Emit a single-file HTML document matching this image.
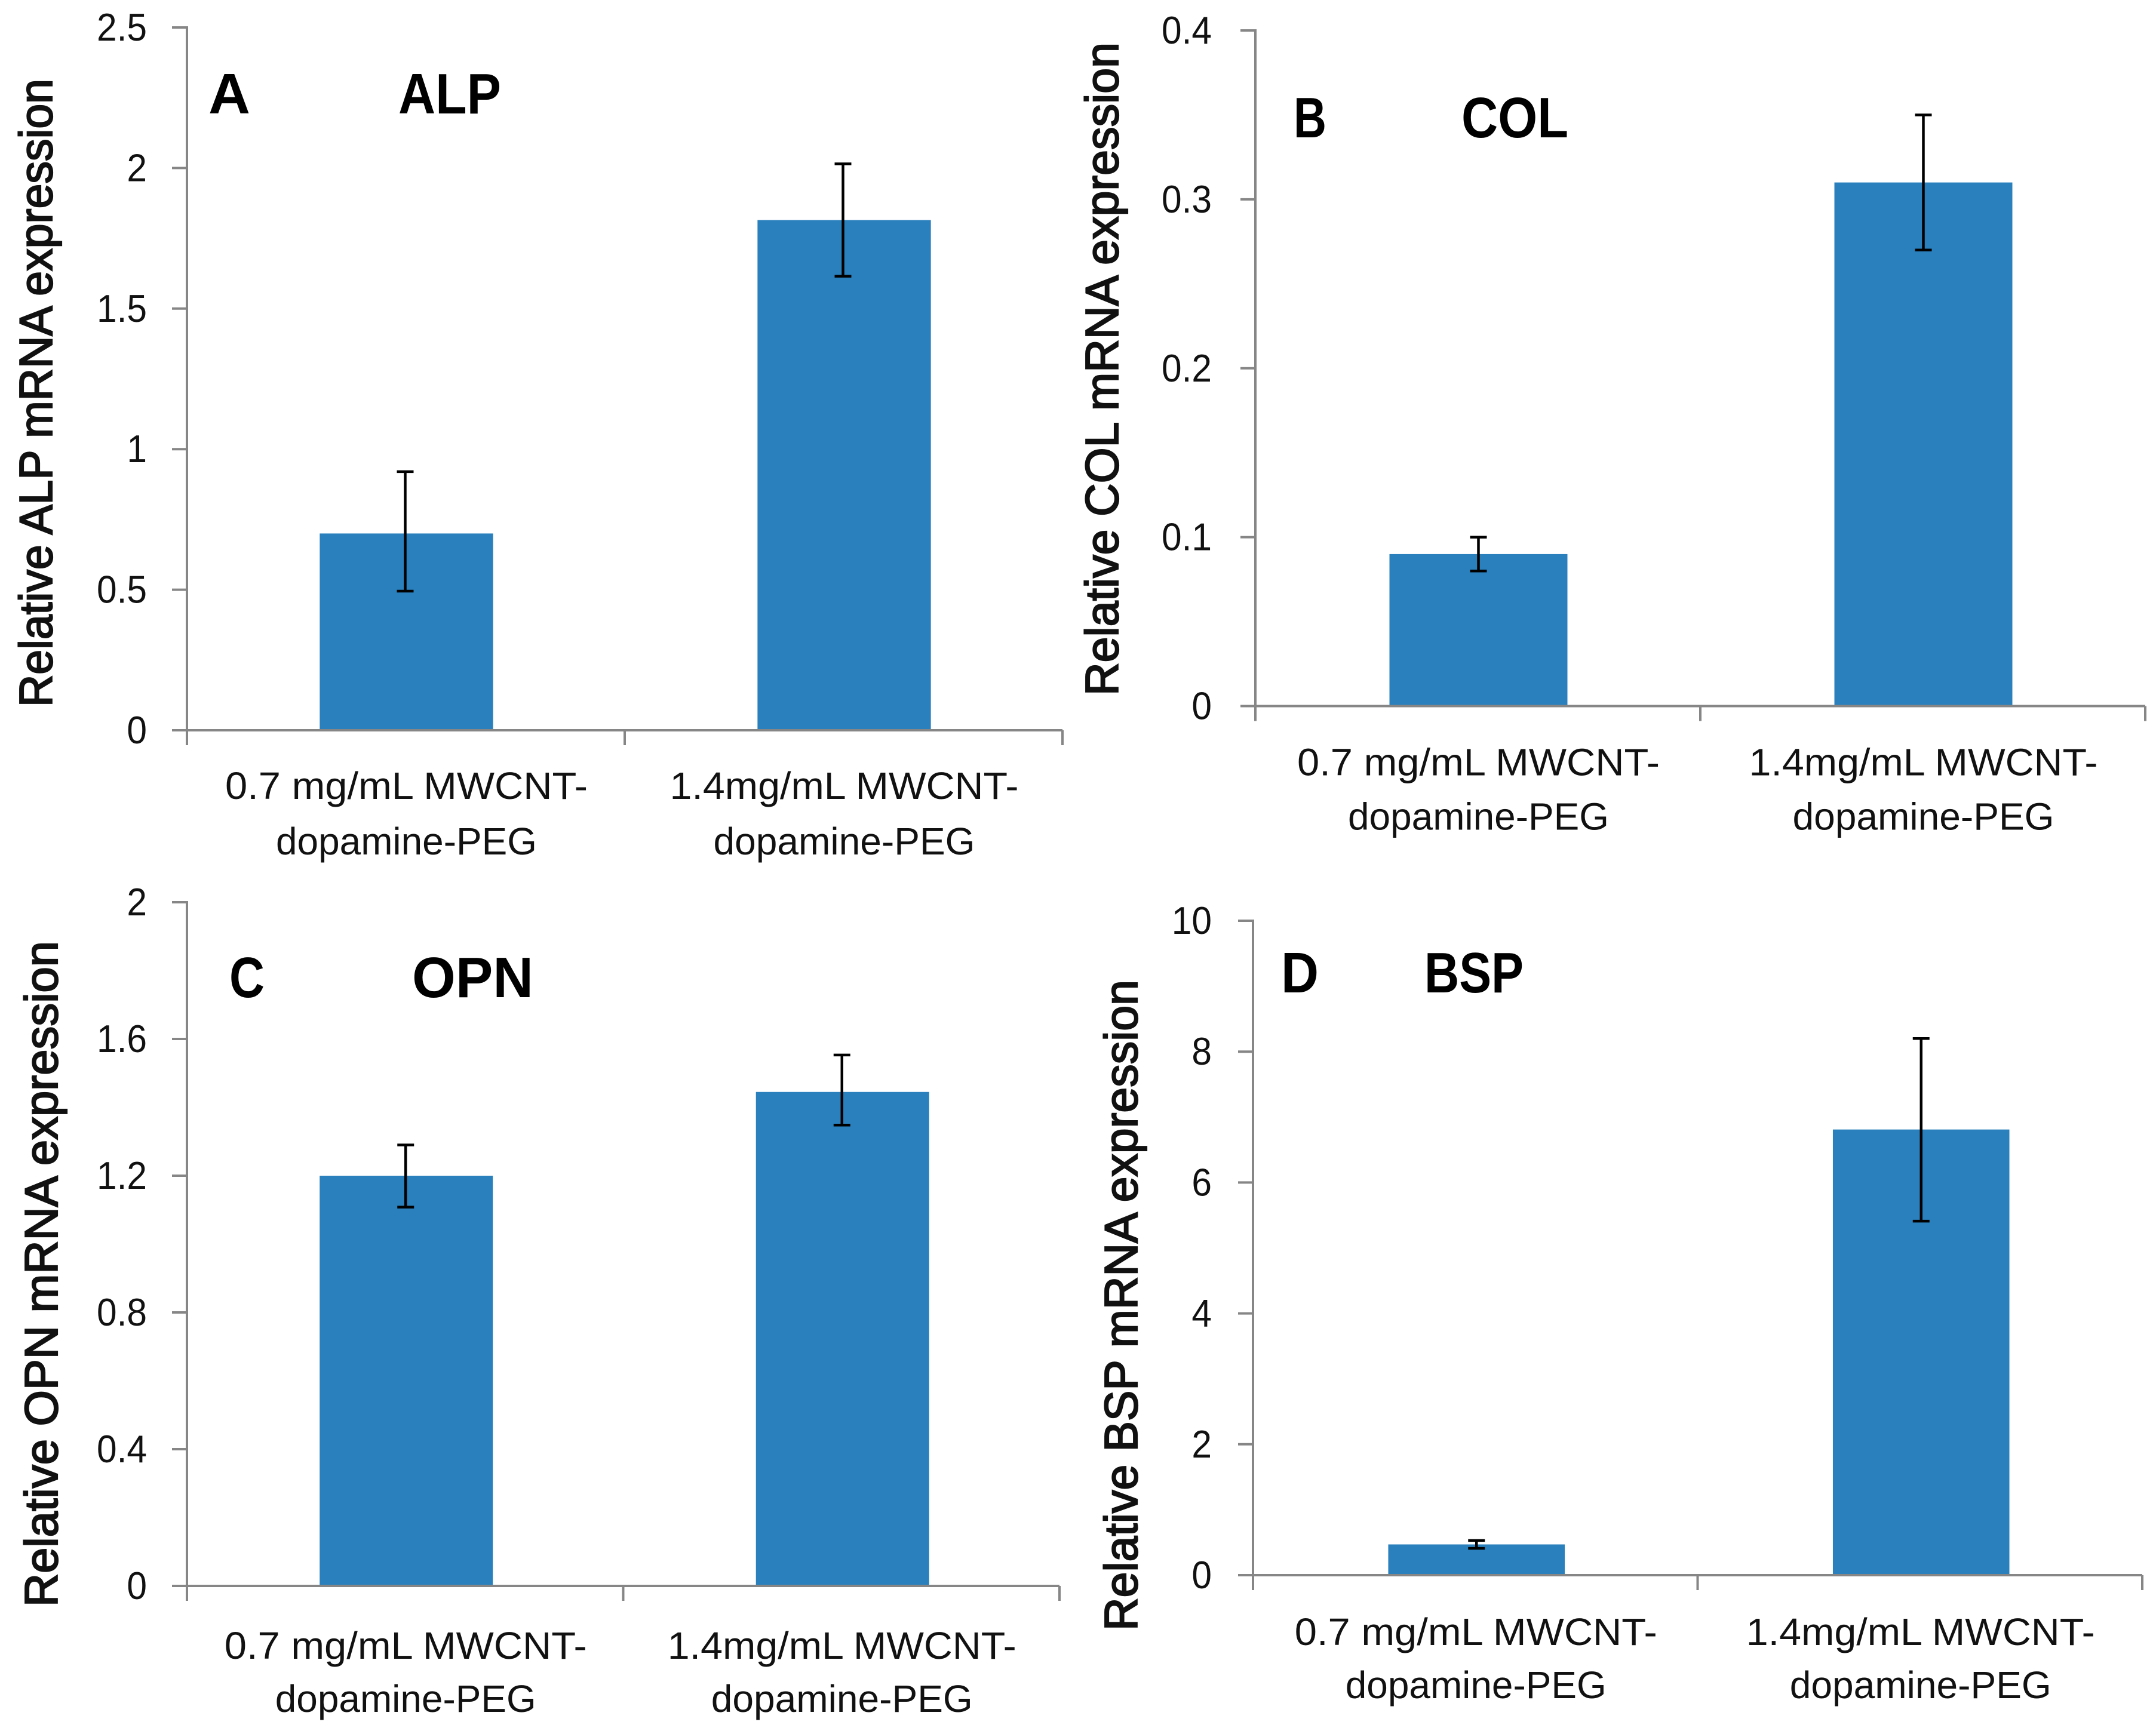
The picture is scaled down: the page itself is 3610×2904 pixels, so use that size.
<!DOCTYPE html>
<html lang="en">
<head>
<meta charset="utf-8">
<title>Relative mRNA expression charts</title>
<style>
  html, body { margin: 0; padding: 0; background: #fff; }
  svg { display: block; }
  text { font-family: "Liberation Sans", sans-serif; fill: #111; }
  .tick { font-size: 65px; }
  .cat { font-size: 64px; }
  .ytitle { font-size: 78px; stroke: #111; stroke-width: 2.2px; }
  .letter { font-size: 96px; font-weight: bold; fill: #000; }
</style>
</head>
<body>
<svg id="figure" xmlns="http://www.w3.org/2000/svg" width="3610" height="2904" viewBox="0 0 3610 2904">
  <rect x="0" y="0" width="3610" height="2904" fill="#ffffff"/>
</svg>
<script>
// ---- data ----
const categoryLineOne = ["0.7 mg/mL MWCNT-", "1.4mg/mL MWCNT-"];
const categoryLineTwo = ["dopamine-PEG", "dopamine-PEG"];

const alpValues = [0.70, 1.815];
const alpUpper = [0.92, 2.015];
const alpLower = [0.495, 1.615];
const alpTicks = [0, 0.5, 1, 1.5, 2, 2.5];
const alpTickLabels = ["0", "0.5", "1", "1.5", "2", "2.5"];

const colValues = [0.09, 0.31];
const colUpper = [0.10, 0.35];
const colLower = [0.08, 0.27];
const colTicks = [0, 0.1, 0.2, 0.3, 0.4];
const colTickLabels = ["0", "0.1", "0.2", "0.3", "0.4"];

const opnValues = [1.20, 1.445];
const opnUpper = [1.29, 1.553];
const opnLower = [1.108, 1.348];
const opnTicks = [0, 0.4, 0.8, 1.2, 1.6, 2];
const opnTickLabels = ["0", "0.4", "0.8", "1.2", "1.6", "2"];

const bspValues = [0.47, 6.81];
const bspUpper = [0.53, 8.2];
const bspLower = [0.41, 5.41];
const bspTicks = [0, 2, 4, 6, 8, 10];
const bspTickLabels = ["0", "2", "4", "6", "8", "10"];

// ---- drawing ----
const NS = "http://www.w3.org/2000/svg";
const svg = document.getElementById("figure");
const AXIS = "#868686";
const BAR = "#2980bd";

function make(parent, tag, attrs, content) {
  const el = document.createElementNS(NS, tag);
  for (const k in attrs) el.setAttribute(k, attrs[k]);
  if (content !== undefined) el.textContent = content;
  parent.appendChild(el);
  return el;
}

function drawPanel(p) {
  const g = make(svg, "g", {});
  
  

  const yMax = p.ticks[p.ticks.length - 1];
  const yScale = v => p.base - (v / yMax) * (p.base - p.top);
  const band = (p.right - p.left) / p.values.length;
  const xScale = i => p.left + band * (i + 0.5);
  const barW = band * p.barRatio;

  // bars
  p.values.forEach((v, i) => {
    const bar = make(g, "rect", {
      x: xScale(i) + p.barShift - barW / 2,
      y: yScale(v),
      width: barW,
      height: p.base - yScale(v),
      fill: BAR
    });
    
    
  });

  // axes
  const yAxis = make(g, "line", { x1: p.left, x2: p.left, y1: p.top - 2, y2: p.base + 25, stroke: AXIS, "stroke-width": 4 });
  
  
  const xAxis = make(g, "line", { x1: p.left - 25, x2: p.right, y1: p.base, y2: p.base, stroke: AXIS, "stroke-width": 4 });
  
  

  // y ticks and labels
  p.ticks.forEach((t, i) => {
    const y = yScale(t);
    const tick = make(g, "line", { x1: p.left - 25, x2: p.left, y1: y, y2: y, stroke: AXIS, "stroke-width": 4 });
    
    
    const label = make(g, "text", { class: "tick", x: p.tickLabelRight, y: y + 22, "text-anchor": "end" }, p.tickLabels[i]);
    
    
    label.setAttribute("lengthAdjust", "spacingAndGlyphs");
    label.setAttribute("textLength", label.getComputedTextLength() * 0.93);
  });

  // x ticks
  for (let i = 1; i <= p.values.length; i++) {
    const x = p.left + band * i;
    const tick = make(g, "line", { x1: x, x2: x, y1: p.base, y2: p.base + 25, stroke: AXIS, "stroke-width": 4 });
    
    
  }

  // category labels
  const widthsOne = [607, 584];
  const widthsTwo = [437, 438];
  categoryLineOne.forEach((c, i) => {
    const cx = xScale(i) + 1;
    const one = make(g, "text", { class: "cat", x: cx, y: p.base + p.catOne, "text-anchor": "middle", textLength: widthsOne[i], lengthAdjust: "spacingAndGlyphs" }, c);
    
    
    const two = make(g, "text", { class: "cat", x: cx, y: p.base + p.catTwo, "text-anchor": "middle", textLength: widthsTwo[i], lengthAdjust: "spacingAndGlyphs" }, categoryLineTwo[i]);
    
    
  });

  // error bars
  p.values.forEach((v, i) => {
    const x = xScale(i) + p.errShift;
    const yHi = yScale(p.upper[i]);
    const yLo = yScale(p.lower[i]);
    const stem = make(g, "line", { x1: x, x2: x, y1: yHi, y2: yLo, stroke: "#000", "stroke-width": 4.5 });
    
    
    [yHi, yLo].forEach(cy => {
      const cap = make(g, "line", { x1: x - 14, x2: x + 14, y1: cy, y2: cy, stroke: "#000", "stroke-width": 4.5 });
      
      
    });
  });

  // y axis title
  const title = make(g, "text", {
    class: "ytitle", x: p.titleX, y: p.titleY,
    transform: "rotate(-90 " + p.titleX + " " + p.titleY + ")",
    textLength: p.titleLen, lengthAdjust: "spacingAndGlyphs"
  }, p.title);
  
  

  // panel letter and gene name
  const letter = make(g, "text", { class: "letter", x: p.letterX, y: p.letterY, textLength: p.letterW, lengthAdjust: "spacingAndGlyphs" }, p.letter);
  
  
  const gene = make(g, "text", { class: "letter", x: p.geneX, y: p.letterY, textLength: p.geneW, lengthAdjust: "spacingAndGlyphs" }, p.gene);
  
  
}

drawPanel({
  key: "alp", values: alpValues, upper: alpUpper, lower: alpLower, ticks: alpTicks, tickLabels: alpTickLabels,
  left: 313, right: 1779, top: 46, base: 1223, barRatio: 0.396, barShift: 1, errShift: -1,
  tickLabelRight: 246, catOne: 115, catTwo: 208,
  title: "Relative ALP mRNA expression", titleX: 87, titleY: 1184, titleLen: 1052,
  letter: "A", gene: "ALP", letterX: 349, geneX: 667, letterW: 70, geneW: 172, letterY: 190
});
drawPanel({
  key: "col", values: colValues, upper: colUpper, lower: colLower, ticks: colTicks, tickLabels: colTickLabels,
  left: 2102, right: 3592, top: 51, base: 1182.5, barRatio: 0.4, barShift: 1, errShift: 1,
  tickLabelRight: 2029, catOne: 116, catTwo: 207,
  title: "Relative COL mRNA expression", titleX: 1872, titleY: 1165, titleLen: 1094,
  letter: "B", gene: "COL", letterX: 2166, geneX: 2447, letterW: 55, geneW: 179, letterY: 230
});
drawPanel({
  key: "opn", values: opnValues, upper: opnUpper, lower: opnLower, ticks: opnTicks, tickLabels: opnTickLabels,
  left: 313, right: 1774, top: 1511, base: 2656, barRatio: 0.397, barShift: 2, errShift: 1,
  tickLabelRight: 246, catOne: 122, catTwo: 211,
  title: "Relative OPN mRNA expression", titleX: 96, titleY: 2691, titleLen: 1115,
  letter: "C", gene: "OPN", letterX: 384, geneX: 690, letterW: 59, geneW: 203, letterY: 1670
});
drawPanel({
  key: "bsp", values: bspValues, upper: bspUpper, lower: bspLower, ticks: bspTicks, tickLabels: bspTickLabels,
  left: 2098, right: 3587, top: 1542, base: 2638, barRatio: 0.397, barShift: 2, errShift: 2,
  tickLabelRight: 2029, catOne: 117, catTwo: 206,
  title: "Relative BSP mRNA expression", titleX: 1904, titleY: 2731, titleLen: 1090,
  letter: "D", gene: "BSP", letterX: 2145, geneX: 2385, letterW: 63, geneW: 166, letterY: 1662
});
</script>
</body>
</html>
